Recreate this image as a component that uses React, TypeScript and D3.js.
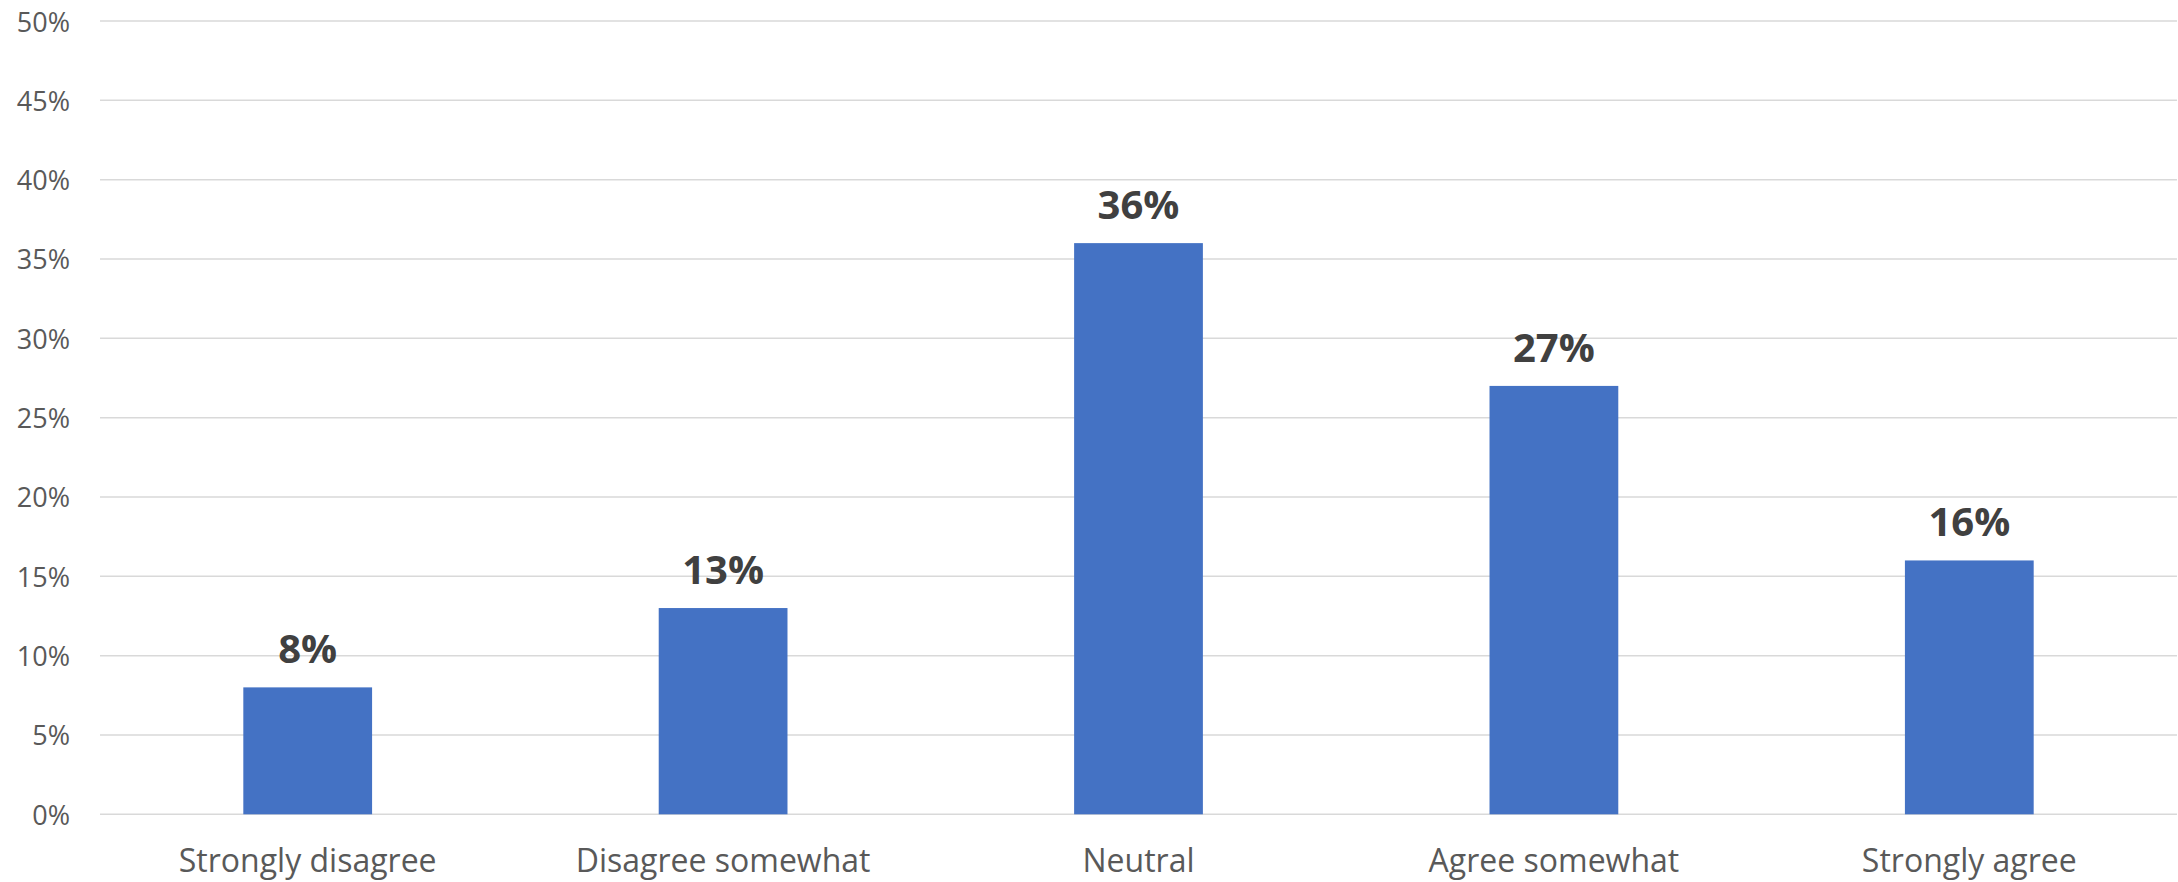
import React from "react";
import * as d3 from "d3";

const categories = ["Strongly disagree", "Disagree somewhat", "Neutral", "Agree somewhat", "Strongly agree"];
const values = [8, 13, 36, 27, 16];
const yTicks = [0, 5, 10, 15, 20, 25, 30, 35, 40, 45, 50];

const W = 2178;
const H = 882;
const FONT = "'Open Sans', 'Noto Sans', sans-serif";

export default function App() {
  const left = 100, right = 2177, top = 21, bottom = 814.3;
  const x = d3.scaleBand<string>().domain(categories).range([left, right]).padding(0);
  const y = d3.scaleLinear().domain([0, 50]).range([bottom, top]);
  const barW = x.bandwidth() * 0.31;

  return (
    <div style={{ position: "fixed", left: 0, top: 0, width: W, height: H, background: "#fff" }}>
      <svg width={W} height={H} style={{ display: "block" }}>
        <rect width={W} height={H} fill="#fff" />
        {yTicks.map((t) => (
          <g key={t}>
            <line x1={left} x2={right} y1={y(t)} y2={y(t)} stroke="#d9d9d9" strokeWidth={1.5} />
            <text x={70} y={y(t)} textAnchor="end" dominantBaseline="central" fontFamily={FONT} fontSize={27} fill="#595959">
              {t}%
            </text>
          </g>
        ))}
        {categories.map((c, i) => {
          const cx = (x(c) as number) + x.bandwidth() / 2;
          return (
            <g key={c}>
              <rect x={cx - barW / 2} y={y(values[i])} width={barW} height={y(0) - y(values[i])} fill="#4472C4" />
              <text x={cx} y={y(values[i]) - 24} textAnchor="middle" fontFamily={FONT} fontWeight={700} fontSize={40} fill="#404040">
                {values[i]}%
              </text>
              <text x={cx} y={872} textAnchor="middle" fontFamily={FONT} fontSize={32} fill="#595959">
                {c}
              </text>
            </g>
          );
        })}
      </svg>
    </div>
  );
}
